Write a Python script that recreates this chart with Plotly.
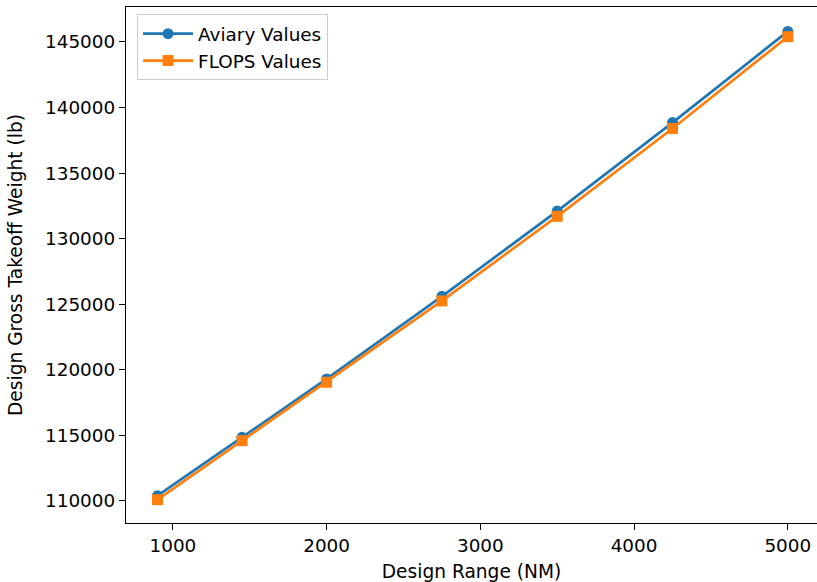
import plotly.graph_objects as go

design_range = [900, 1450, 2000, 2750, 3500, 4250, 5000]
aviary_values = [110400, 114850, 119300, 125600, 132100, 138850, 145800]
flops_values = [110100, 114600, 119050, 125250, 131700, 138400, 145400]
x_ticks = [1000, 2000, 3000, 4000, 5000]
y_ticks = [110000, 115000, 120000, 125000, 130000, 135000, 140000, 145000]

FS = 18.4
font = dict(family="DejaVu Sans", size=FS, color="black")
title_font = dict(family="DejaVu Sans", size=18.6, color="black")

fig = go.Figure()
fig.add_trace(go.Scatter(
    x=design_range, y=aviary_values, name="Aviary Values",
    mode="lines+markers",
    line=dict(color="#1f77b4", width=2.7),
    marker=dict(symbol="circle", size=11, color="#1f77b4"),
))
fig.add_trace(go.Scatter(
    x=design_range, y=flops_values, name="FLOPS Values",
    mode="lines+markers",
    line=dict(color="#ff7f0e", width=2.7),
    marker=dict(symbol="square", size=11, color="#ff7f0e"),
))

fig.update_layout(
    width=817, height=582,
    margin=dict(l=126, r=0, t=7, b=59),
    paper_bgcolor="white", plot_bgcolor="white",
    font=font,
    showlegend=True,
    legend=dict(
        x=0.016, y=0.986, xanchor="left", yanchor="top",
        bgcolor="rgba(255,255,255,0.8)", bordercolor="#cccccc", borderwidth=1,
        font=font,
        tracegroupgap=0,
        itemwidth=50,
    ),
    xaxis=dict(
        range=[695, 5190], tickvals=x_ticks, ticktext=[str(t) for t in x_ticks],
        showgrid=False, zeroline=False,
        showline=True, linecolor="black", linewidth=1.2, mirror=True,
        ticks="outside", ticklen=6, tickwidth=1.2, tickcolor="black",
        title=dict(text="Design Range (NM)", standoff=12, font=title_font),
    ),
    yaxis=dict(
        range=[108320, 147660], tickvals=y_ticks, ticktext=[str(t) for t in y_ticks],
        showgrid=False, zeroline=False,
        showline=True, linecolor="black", linewidth=1.2, mirror=False,
        ticks="outside", ticklen=6, tickwidth=1.2, tickcolor="black",
        title=dict(text="Design Gross Takeoff Weight (lb)", standoff=17, font=title_font),
    ),
)

fig.write_html("out.html", config={"displayModeBar": False},
               post_script="document.body.style.margin='0px';")
